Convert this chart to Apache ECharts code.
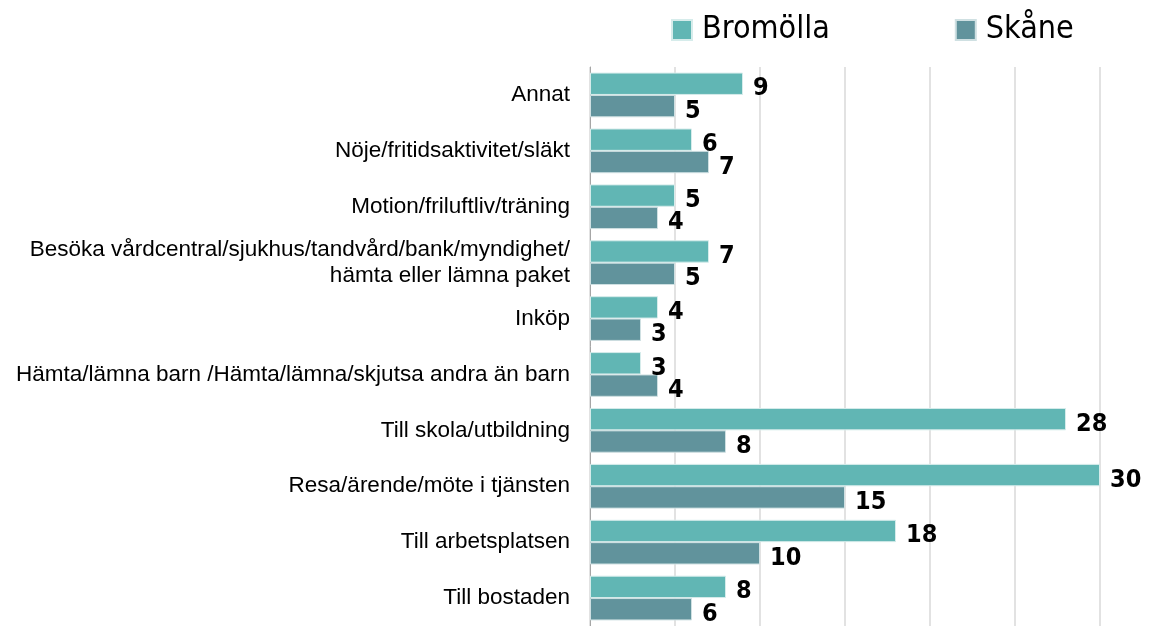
<!DOCTYPE html>
<html>
<head>
<meta charset="utf-8">
<script src="https://cdn.jsdelivr.net/npm/echarts@6/dist/echarts.min.js"></script>
<style>
  html, body { margin: 0; padding: 0; background: #fff; }
  #main { width: 1169px; height: 626px; }
</style>
</head>
<body>
<div id="main"></div>
<script>
// categories listed top to bottom as in the picture
const categories = [
  'Annat',
  'Nöje/fritidsaktivitet/släkt',
  'Motion/friluftliv/träning',
  'Besöka vårdcentral/sjukhus/tandvård/bank/myndighet/\nhämta eller lämna paket',
  'Inköp',
  'Hämta/lämna barn /Hämta/lämna/skjutsa andra än barn',
  'Till skola/utbildning',
  'Resa/ärende/möte i tjänsten',
  'Till arbetsplatsen',
  'Till bostaden'
]
const bromolla = [9, 6, 5, 7, 4, 3, 28, 30, 18, 8]
const skane = [5, 7, 4, 5, 3, 4, 8, 15, 10, 6]

const chart = echarts.init(document.getElementById('main'))

const narrow = '"DejaVu Sans Condensed", sans-serif'

const labelStyle = {
  show: true,
  position: 'right',
  distance: 10,
  color: '#000',
  fontFamily: narrow,
  fontWeight: 'bold',
  fontSize: 25,
  offset: [0, 5]
}

chart.setOption({
  animation: false,
  legend: {
    left: 666,
    top: 9,
    itemWidth: 20,
    itemHeight: 20,
    itemGap: 125,
    icon: 'rect',
    textStyle: {
      fontFamily: narrow,
      fontSize: 32,
      color: '#000',
      padding: [0, 0, 0, 5]
    },
    data: ['Bromölla', 'Skåne']
  },
  grid: {
    left: 590,
    right: 69,
    top: 67,
    bottom: -5
  },
  xAxis: {
    type: 'value',
    min: 0,
    max: 30,
    interval: 5,
    axisLabel: { show: false },
    axisLine: { show: false },
    axisTick: { show: false },
    splitLine: { lineStyle: { color: '#d9d9d9', width: 1.5 } }
  },
  yAxis: {
    type: 'category',
    inverse: true,
    data: categories,
    axisLine: { lineStyle: { color: '#a6a6a6' } },
    axisTick: { length: 6, lineStyle: { color: '#a6a6a6' } },
    axisLabel: {
      margin: 20,
      color: '#000',
      fontFamily: 'Liberation Sans',
      fontSize: 22.5,
      lineHeight: 26,
      align: 'right',
      padding: [9, 0, 0, 0]
    }
  },
  series: [
    {
      name: 'Bromölla',
      type: 'bar',
      data: bromolla,
      barGap: '0%',
      barCategoryGap: '20%',
      itemStyle: { color: '#61b6b4', borderColor: '#d6eceb', borderWidth: 1 },
      label: labelStyle
    },
    {
      name: 'Skåne',
      type: 'bar',
      data: skane,
      itemStyle: { color: '#61939c', borderColor: '#cfe0e2', borderWidth: 1 },
      label: labelStyle
    }
  ]
})
</script>
</body>
</html>
